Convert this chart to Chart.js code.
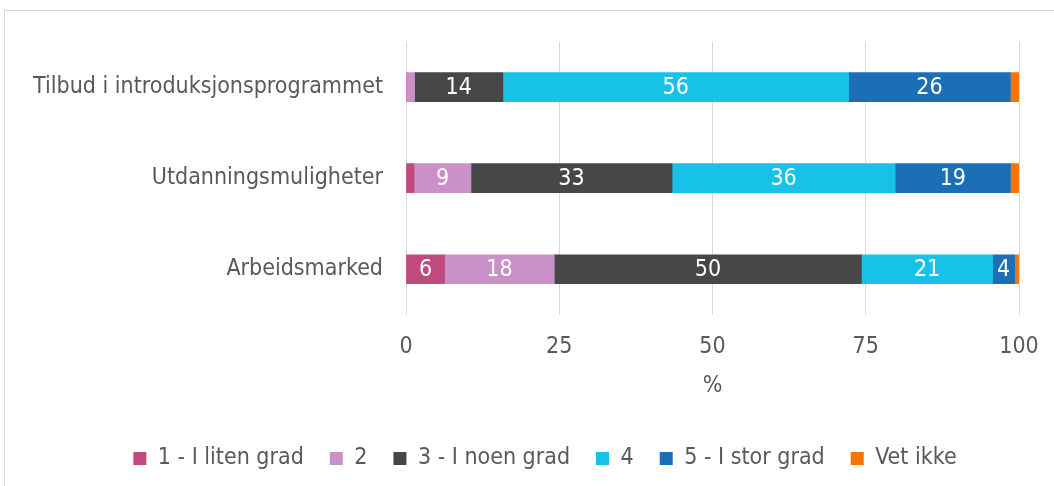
<!DOCTYPE html>
<html>
<head>
<meta charset="utf-8">
<script src="https://cdn.jsdelivr.net/npm/chart.js@4.4.1/dist/chart.umd.min.js"></script>
<style>
  html, body { margin:0; padding:0; background:#fff; overflow:hidden; width:1054px; height:486px; }
  #frame { position:absolute; left:4px; top:10px; width:1080px; height:500px; border:1px solid #d9d9d9; }
  #chart { position:absolute; left:0; top:0; }
</style>
</head>
<body>
<div id="frame"><canvas id="chart" width="1080" height="480"></canvas></div>
<script>
// categories and series (percent)
const categories = ['Tilbud i introduksjonsprogrammet', 'Utdanningsmuligheter', 'Arbeidsmarked'];
const seriesNames = ['1 - I liten grad', '2', '3 - I noen grad', '4', '5 - I stor grad', 'Vet ikke'];
const s1 = [0, 1.3, 6.3];
const s2 = [1.4, 9.3, 17.9];
const s3 = [14.4, 32.8, 50.1];
const s4 = [56.4, 36.4, 21.4];
const s5 = [26.4, 18.8, 3.6];
const s6 = [1.4, 1.4, 0.7];
const xTicks = [0, 25, 50, 75, 100];

const colors = ['#bf4a7e', '#c991c8', '#474747', '#17c1e8', '#1a6fb6', '#f97306'];
const FONT = '"DejaVu Sans Condensed", "Liberation Sans", sans-serif';
const FS = 23;
const TXT = '#595959';

// white value labels inside segments
const barLabels = {
  id: 'barLabels',
  afterDatasetsDraw(chart){
    const ctx = chart.ctx;
    ctx.save();
    ctx.font = FS + 'px ' + FONT;
    ctx.fillStyle = '#fff';
    ctx.textAlign = 'center';
    ctx.textBaseline = 'middle';
    chart.data.datasets.forEach((ds, i) => {
      chart.getDatasetMeta(i).data.forEach((el, j) => {
        const v = ds.data[j];
        if (v < 3) return;
        ctx.fillText(Math.round(v), (el.x + el.base) / 2, el.y + 1);
      });
    });
    ctx.restore();
  }
};

// legend is centred on the whole frame, not just left of the right padding
const legendFull = {
  id: 'legendFull',
  afterLayout(chart){
    const lg = chart.legend;
    lg.left = 0; lg.right = chart.width; lg.width = chart.width;
  }
};

const allSeries = [s1, s2, s3, s4, s5, s6];
const datasets = allSeries.map((d, i) => ({
  label: seriesNames[i], data: d, backgroundColor: colors[i], borderWidth: 0, barThickness: 29
}));

new Chart(document.getElementById('chart'), {
  type: 'bar',
  data: { labels: categories, datasets },
  plugins: [barLabels, legendFull],
  options: {
    indexAxis: 'y',
    responsive: false,
    animation: false,
    layout: { padding: { top: 30.5, right: 66, left: 0, bottom: 11 } },
    plugins: {
      tooltip: { enabled: false },
      legend: {
        position: 'bottom',
        labels: { color: TXT, font: { family: FONT, size: FS }, boxWidth: 13, boxHeight: 13, padding: 26 }
      }
    },
    scales: {
      x: {
        stacked: true, min: 0, max: 100,
        afterBuildTicks(scale){ scale.ticks = xTicks.map(v => ({ value: v })); },
        grid: { color: '#d9d9d9', drawTicks: false },
        border: { display: false },
        ticks: { color: TXT, font: { family: FONT, size: FS }, padding: 18 },
        title: { display: true, text: '%', color: TXT, font: { family: FONT, size: FS }, padding: { top: -6, bottom: 21 } }
      },
      y: {
        stacked: true,
        afterFit(scale){ scale.width = 401; scale.paddingTop = 0; scale.paddingBottom = 0; },
        grid: { display: false, drawTicks: false },
        border: { display: false },
        ticks: { color: TXT, font: { family: FONT, size: FS }, padding: 23 }
      }
    }
  }
});
</script>
</body>
</html>
